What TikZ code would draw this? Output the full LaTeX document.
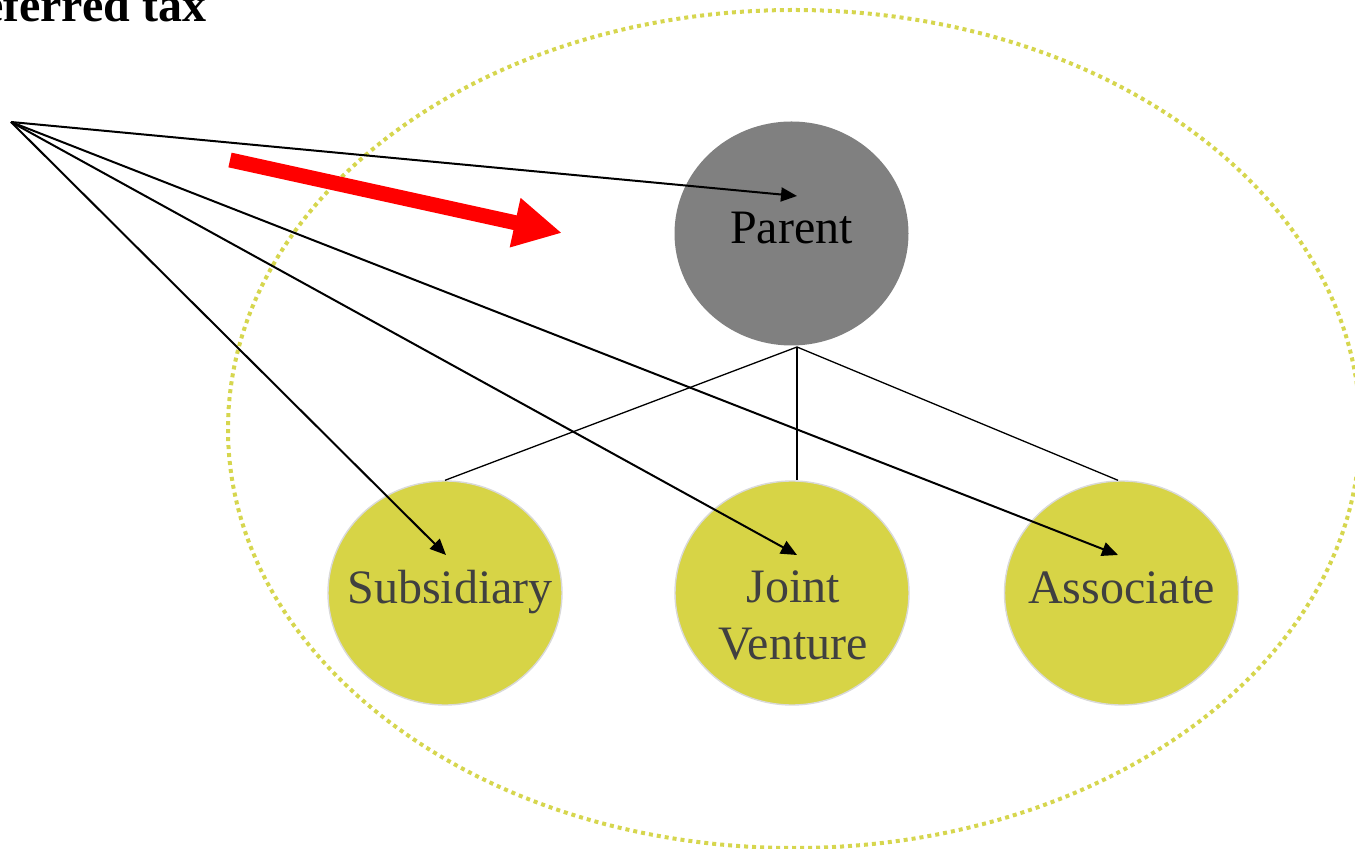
\documentclass[tikz,border=0pt]{standalone}
\usepackage{fontspec}
\setmainfont{Liberation Serif}
\usetikzlibrary{arrows.meta,shapes.geometric}
\definecolor{entityfill}{RGB}{215,212,70}
\definecolor{ringcol}{RGB}{214,214,78}
\definecolor{parentgray}{RGB}{128,128,128}
\definecolor{edgegray}{RGB}{217,217,217}
\definecolor{labelgray}{RGB}{64,64,64}
\begin{document}
\begin{tikzpicture}[x=0.5pt,y=-0.5pt,
  entity/.style={ellipse, minimum width=117pt, minimum height=112pt, inner sep=0pt,
                 draw=edgegray, line width=0.7pt, fill=entityfill},
  lbl/.style={font=\fontsize{24}{28.5}\selectfont, align=center, inner sep=0pt, text=labelgray},
  link/.style={line width=0.65pt},
  ptr/.style={line width=1pt, -{Triangle[length=8pt,width=7pt]}},
  bigarrow/.style={red, line width=7.5pt, -{Triangle[length=24pt,width=23.5pt]}},
  group/.style={ringcol, line width=2pt, dash pattern=on 2pt off 2pt},
]
\useasboundingbox (0,0) rectangle (1355,849);
\clip (0,0) rectangle (1355,849);

% heading
\node[font=\bfseries\fontsize{24}{28}\selectfont, anchor=base west, inner sep=0pt] (title) at (-53,22) {Deferred tax};

% group boundary
\draw[group] (794,429) ellipse [x radius=566, y radius=419];

% entities
\node[entity, fill=parentgray, draw=none] (par) at (791.5,233.5) {};
\node[entity] (sub) at (445,593) {};
\node[entity] (jv)  at (792,593) {};
\node[entity] (asc) at (1121.5,593) {};

\node[lbl, text=black, anchor=base] (part) at (791.5,244) {Parent};
\node[lbl, anchor=base] (subt) at (450,604) {Subsidiary};
\node[lbl] (jvt) at (793,615) {Joint\\Venture};
\node[lbl, anchor=base] (asct) at (1121.5,604) {Associate};

% ownership links
\coordinate (pb) at (797,347);
\draw[link] (pb) -- (sub.north);
\draw[link] (pb) -- (jv.north -| pb);
\draw[link] (pb) -- ([xshift=-3.5*0.5pt]asc.north);

% pointers from the source point
\coordinate (src) at (11,122);
\draw[ptr] (src) -- ([shift={(5.5,-37.5)}]par.center);
\draw[ptr] (src) -- ([shift={(1,-38)}]sub.center);
\draw[ptr] (src) -- ([shift={(5,-38)}]jv.center);
\draw[ptr] (src) -- ([shift={(-3.5,-38)}]asc.center);

% direction arrow
\coordinate (rs) at (230,160);
\coordinate (re) at (562,233);
\draw[bigarrow] (rs) -- (re);
\end{tikzpicture}
\end{document}
